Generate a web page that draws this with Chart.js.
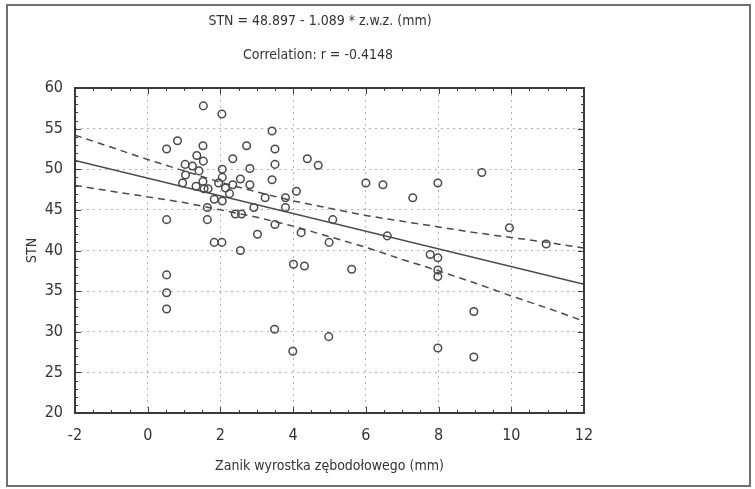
<!DOCTYPE html>
<html>
<head>
<meta charset="utf-8">
<script src="https://cdn.jsdelivr.net/npm/chart.js@4"></script>
<style>
  body { margin: 0; background: #fff; }
  #wrap { position: relative; width: 755px; height: 489px; }
  #frame { position: absolute; left: 6px; top: 4px; width: 741px; height: 479px; border: 2px solid #707070; }
  canvas { position: absolute; left: 0; top: 0; }
</style>
</head>
<body>
<div id="wrap"><div id="frame"></div><canvas id="stnChart" width="755" height="489"></canvas></div>
<script>
// STN vs zanik wyrostka - SCATTER + regression

const zanikVals = [1.53, 2.04, 3.42, 0.82, 0.52, 1.52, 2.72, 3.50, 1.35, 1.53, 2.34, 4.39, 4.69, 1.03, 1.23, 1.41,
    1.04, 2.05, 2.81, 3.50, 0.96, 1.33, 1.52, 1.55, 1.66, 1.95, 2.05, 2.14, 2.34, 2.55, 2.81, 3.42,
    4.09, 2.25, 1.83, 2.05, 3.23, 3.79, 1.64, 2.92, 3.79, 2.41, 2.58, 0.52, 1.64, 5.09, 3.50, 4.22,
    3.02, 1.83, 2.04, 4.99, 2.55, 4.01, 4.31, 0.52, 0.52, 0.52, 5.61, 6.59, 6.00, 6.47, 7.98, 7.29,
    9.19, 7.77, 7.98, 7.98, 7.98, 8.97, 3.49, 4.98, 3.99, 7.98, 8.97, 9.95, 10.96];
const stnVals = [57.8, 56.8, 54.7, 53.5, 52.5, 52.9, 52.9, 52.5, 51.7, 51.0, 51.3, 51.3, 50.5, 50.6, 50.4, 49.8,
    49.3, 50.0, 50.1, 50.6, 48.3, 47.9, 48.5, 47.6, 47.6, 48.3, 49.0, 47.7, 48.1, 48.8, 48.1, 48.7,
    47.3, 47.0, 46.3, 46.1, 46.5, 46.5, 45.3, 45.3, 45.3, 44.5, 44.5, 43.8, 43.8, 43.8, 43.2, 42.2,
    42.0, 41.0, 41.0, 41.0, 40.0, 38.3, 38.1, 37.0, 34.8, 32.8, 37.7, 41.8, 48.3, 48.1, 48.3, 46.5,
    49.6, 39.5, 39.1, 37.6, 36.8, 32.5, 30.3, 29.4, 27.6, 28.0, 26.9, 42.8, 40.8];

// regression line ends
const fitX = [-2, 12];
const fitY = [51.07, 35.83];

// confidence band (dashed)
const bandX = [-2, -1, 0, 1, 2, 3, 4, 5, 6, 7, 8, 9, 10, 11, 12];
const bandUpper = [54.2, 52.7, 51.2, 49.8, 48.4, 47.2, 46.1, 45.2, 44.3, 43.6, 42.9, 42.2, 41.6, 41.0, 40.3];
const bandLower = [48.0, 47.3, 46.6, 45.9, 45.0, 44.1, 43.0, 41.7, 40.4, 38.9, 37.5, 36.0, 34.4, 32.9, 31.3];

const titleLines = ["STN = 48.897 - 1.089 * z.w.z. (mm)", "Correlation: r = -0.4148"];

const xy = (xs, ys) => xs.map((v, i) => ({x: v, y: ys[i]}));

const narrow = "'Liberation Sans Narrow', 'DejaVu Sans Condensed', 'Roboto Condensed', sans-serif";
const ink = '#3a3a3a';

// frame, minor ticks and the two header lines
const frameTicks = {
    id: 'frameTicks',
    afterDatasetsDraw(chart) {
        const {ctx, chartArea: a, scales: {x, y}} = chart;
        ctx.save();
        ctx.strokeStyle = ink;
        ctx.lineWidth = 1;
        ctx.beginPath();
        for (let v = -2; v <= 12; v += 0.5) {
            const px = Math.round(x.getPixelForValue(v)) + 0.5;
            const len = (v % 2 === 0) ? 6 : 3;
            ctx.moveTo(px, a.bottom); ctx.lineTo(px, a.bottom - len);
            ctx.moveTo(px, a.top); ctx.lineTo(px, a.top + len);
        }
        for (let v = 20; v <= 60; v += 1) {
            const py = Math.round(y.getPixelForValue(v)) + 0.5;
            const len = (v % 5 === 0) ? 6 : 3;
            ctx.moveTo(a.left, py); ctx.lineTo(a.left + len, py);
            ctx.moveTo(a.right, py); ctx.lineTo(a.right - len, py);
        }
        ctx.stroke();
        ctx.lineWidth = 2;
        ctx.strokeRect(a.left, a.top, a.right - a.left, a.bottom - a.top);

        ctx.fillStyle = '#333';
        ctx.textAlign = 'center';
        ctx.textBaseline = 'middle';
        ctx.font = "14px " + narrow;
        ctx.fillText(titleLines[0], 320, 21);
        ctx.fillText(titleLines[1], 318, 55);
        ctx.restore();
    }
};

const stnDiv = document.getElementById("stnChart");

new Chart(stnDiv, {
    type: 'scatter',
    data: {
        datasets: [
            {
                label: 'STN',
                data: xy(zanikVals, stnVals),
                pointRadius: 3.8,
                pointBorderWidth: 1.5,
                pointBorderColor: '#4a4a4a',
                pointBackgroundColor: 'rgba(0,0,0,0)',
                showLine: false
            },
            {
                type: 'line',
                label: 'fit',
                data: xy(fitX, fitY),
                borderColor: '#4a4a4a',
                borderWidth: 1.5,
                pointRadius: 0,
                fill: false
            },
            {
                type: 'line',
                label: 'upper',
                data: xy(bandX, bandUpper),
                borderColor: '#4a4a4a',
                borderWidth: 1.5,
                borderDash: [7, 5],
                pointRadius: 0,
                fill: false
            },
            {
                type: 'line',
                label: 'lower',
                data: xy(bandX, bandLower),
                borderColor: '#4a4a4a',
                borderWidth: 1.5,
                borderDash: [7, 5],
                pointRadius: 0,
                fill: false
            }
        ]
    },
    options: {
        responsive: false,
        animation: false,
        layout: { padding: { left: 0, right: 171, top: 88, bottom: 0 } },
        plugins: {
            legend: { display: false },
            tooltip: { enabled: false }
        },
        scales: {
            x: {
                type: 'linear',
                min: -2,
                max: 12,
                afterFit: s => { s.height = 76; },
                ticks: { stepSize: 2, padding: 13, color: '#333', font: { family: narrow, size: 16 } },
                grid: { color: '#b0b0b0', drawTicks: false, lineWidth: 1 },
                border: { display: false, dash: [2, 4] },
                title: {
                    display: true,
                    text: 'Zanik wyrostka zębodołowego (mm)',
                    color: '#333',
                    font: { family: narrow, size: 14 },
                    padding: { top: 0, bottom: 14 }
                }
            },
            y: {
                min: 20,
                max: 60,
                afterFit: s => { s.width = 75; },
                ticks: { stepSize: 5, padding: 12, color: '#333', font: { family: narrow, size: 16 } },
                grid: { color: '#b0b0b0', drawTicks: false, lineWidth: 1 },
                border: { display: false, dash: [2, 4] },
                title: {
                    display: true,
                    text: 'STN',
                    color: '#333',
                    font: { family: narrow, size: 14 },
                    padding: { top: 24, bottom: 0 }
                }
            }
        }
    },
    plugins: [frameTicks]
});
</script>
</body>
</html>
